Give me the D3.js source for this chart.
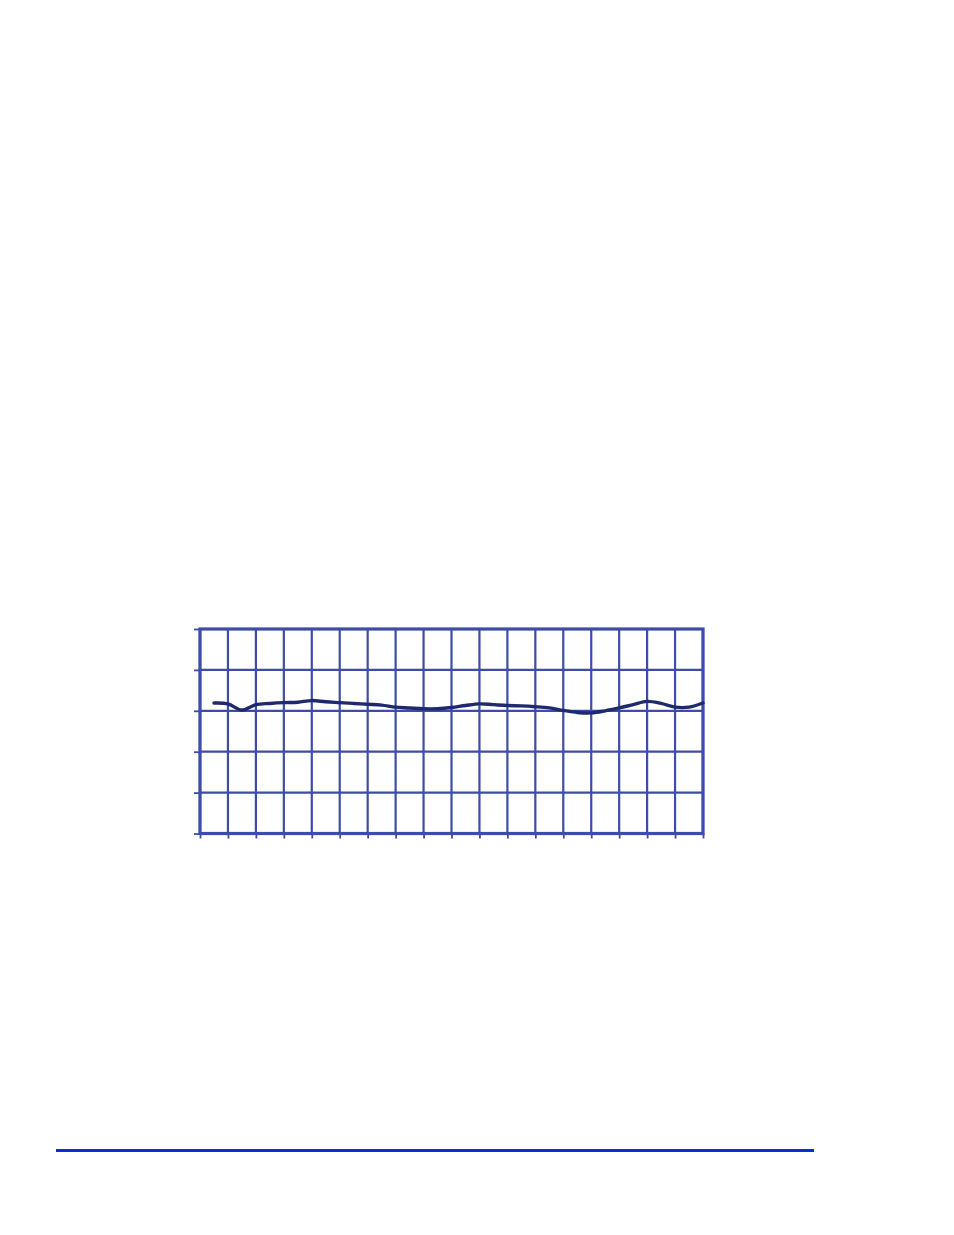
<!DOCTYPE html>
<html>
<head>
<meta charset="utf-8">
<script src="https://cdn.jsdelivr.net/npm/d3@7"></script>
<style>
  html, body { margin: 0; padding: 0; background: #fff; }
  svg { display: block; }
</style>
</head>
<body>
<div id="chart"></div>
<script>
// x positions (half-cell steps) and the series
const xSteps = d3.range(1, 37);
const values = [3.19, 3.17, 3.02, 3.15, 3.18, 3.20, 3.21, 3.25, 3.22, 3.20,
                3.18, 3.16, 3.14, 3.09, 3.07, 3.05, 3.05, 3.08, 3.13, 3.17,
                3.15, 3.13, 3.12, 3.10, 3.07, 3.01, 2.96, 2.95, 3.00, 3.07,
                3.15, 3.23, 3.18, 3.09, 3.09, 3.19];
const yTicks = [0, 1, 2, 3, 4, 5];
const xTicks = d3.range(0, 37, 2);

const gridColor = "#3c4ca8";

const svg = d3.select("#chart")
    .append("svg")
    .attr("width", 954)
    .attr("height", 1235);

const x = d3.scaleLinear().domain([0, 36]).range([200, 703]);
const y = d3.scaleLinear().domain([0, 5]).range([833.5, 629]);

// gridlines
svg.append("g")
    .selectAll("line.h")
    .data(yTicks)
    .join("line")
    .attr("x1", x(0))
    .attr("x2", x(36))
    .attr("y1", d => y(d))
    .attr("y2", d => y(d))
    .attr("stroke", gridColor)
    .attr("stroke-width", 2.2);

svg.append("g")
    .selectAll("line.v")
    .data(xTicks)
    .join("line")
    .attr("x1", d => x(d))
    .attr("x2", d => x(d))
    .attr("y1", y(5))
    .attr("y2", y(0))
    .attr("stroke", gridColor)
    .attr("stroke-width", 2.2);

// tick marks
const leftAxis = svg.append("g")
    .attr("transform", `translate(${x(0)},0)`)
    .call(d3.axisLeft(y).tickValues(yTicks).tickSize(6).tickFormat(""));
const bottomAxis = svg.append("g")
    .attr("transform", `translate(0,${y(0)})`)
    .call(d3.axisBottom(x).tickValues(xTicks).tickSize(5).tickFormat(""));
[leftAxis, bottomAxis].forEach(a => {
    a.select(".domain").remove();
    a.selectAll("line").attr("stroke", gridColor).attr("stroke-width", 1.8);
});

// plot border
svg.append("rect")
    .attr("x", x(0))
    .attr("y", y(5))
    .attr("width", x(36) - x(0))
    .attr("height", y(0) - y(5))
    .attr("fill", "none")
    .attr("stroke", gridColor)
    .attr("stroke-width", 3.2);

// series
const line = d3.line()
    .x((d, i) => x(xSteps[i]))
    .y(d => y(d))
    .curve(d3.curveCatmullRom.alpha(0.5));

svg.append("path")
    .datum(values)
    .attr("d", line)
    .attr("fill", "none")
    .attr("stroke", "#1f2a6e")
    .attr("stroke-width", 3.4)
    .attr("stroke-linecap", "round");

// footer rule
svg.append("line")
    .attr("x1", 56)
    .attr("x2", 814)
    .attr("y1", 1150.5)
    .attr("y2", 1150.5)
    .attr("stroke", "#0033cc")
    .attr("stroke-width", 3);
</script>
</body>
</html>
